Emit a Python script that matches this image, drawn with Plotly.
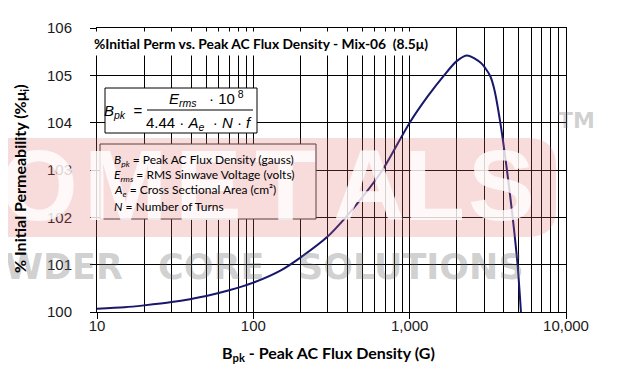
import plotly.graph_objects as go

# ---- data ----
flux_density = [10, 15, 20, 30, 50, 70, 100, 150, 200, 300, 390, 500, 670, 1000,
                1300, 1660, 2000, 2330, 2860, 3050, 3280, 3480, 3800, 4190, 4560, 4900, 5150]
initial_perm = [100.07, 100.10, 100.14, 100.21, 100.34, 100.46, 100.62, 100.88, 101.15,
                101.60, 102.00, 102.43, 103.00, 104.00, 104.55, 105.00, 105.30, 105.42,
                105.26, 105.15, 104.98, 104.70, 104.00, 103.00, 102.00, 101.00, 100.00]
x_tick_vals = [10, 100, 1000, 10000]
x_tick_text = ["10", "100", "1,000", "10,000"]
y_range = [100, 106]

title_text = "<b>%Initial Perm vs. Peak AC Flux Density - Mix-06 \u00a0(8.5\u03bc)</b>"
x_title = "<b>B<sub>pk</sub> - Peak AC Flux Density (G)</b>"
y_title = "<b>% Initial Permeability (%\u03bc<sub>i</sub>)</b>"
legend_lines = [
    "<i>B</i><sub><i>pk</i></sub> = Peak AC Flux Density (gauss)",
    "<i>E</i><sub><i>rms</i></sub> = RMS Sinwave Voltage (volts)",
    "<i>A</i><sub><i>e</i></sub> = Cross Sectional Area (cm\u00b2)",
    "<i>N</i> = Number of Turns",
]

# ---- geometry ----
W, H = 626, 373
L, R, T, B = 89, 558, 20, 304
PW, PH = R - L, B - T


def px(x):
    return (x - L) / PW


def py(y):
    return (B - y) / PH


CAL = "Lato, Carlito, Calibri, sans-serif"
ARI = "Liberation Sans, Arial, sans-serif"
NB = "\u00a0"

fig = go.Figure()
fig.add_trace(go.Scatter(
    x=flux_density, y=initial_perm, mode="lines",
    line=dict(color="#17176b", width=2, shape="spline", smoothing=0.8),
    hoverinfo="skip", showlegend=False,
))

shapes = []
# equation box
shapes.append(dict(type="rect", xref="paper", yref="paper", layer="above",
                   x0=px(97), x1=px(249), y0=py(125), y1=py(80),
                   fillcolor="white", line=dict(color="black", width=1)))
shapes.append(dict(type="line", xref="paper", yref="paper", layer="above",
                   x0=px(139), x1=px(245), y0=py(102), y1=py(102),
                   line=dict(color="black", width=1)))
# legend box
shapes.append(dict(type="rect", xref="paper", yref="paper", layer="above",
                   x0=px(92), x1=px(308), y0=py(211), y1=py(136),
                   fillcolor="white", line=dict(color="#333333", width=1)))
# watermark band
bx0, bx1, by0, by1, rr = -20, 548, 130, 229, 28
path = (f"M {px(bx0)},{py(by0)} L {px(bx1 - rr)},{py(by0)} "
        f"Q {px(bx1)},{py(by0)} {px(bx1)},{py(by0 + rr)} "
        f"L {px(bx1)},{py(by1 - rr)} Q {px(bx1)},{py(by1)} {px(bx1 - rr)},{py(by1)} "
        f"L {px(bx0)},{py(by1)} Z")
shapes.append(dict(type="path", xref="paper", yref="paper", layer="above",
                   path=path, fillcolor="rgba(225,105,105,0.24)", line=dict(width=0)))

ann = []
# watermark letters
wm_letters = ["O", "M", "E", "T", "A", "L", "S"]
wm_centers = [31, 117, 200, 277, 361, 426, 493]
for ch, cx in zip(wm_letters, wm_centers):
    ann.append(dict(text=f"<b>{ch}</b>", x=px(cx), y=py(177), xref="paper", yref="paper",
                    showarrow=False, xanchor="center", yanchor="middle",
                    font=dict(family=ARI, size=100, color="rgba(255,255,255,0.8)")))
grey = "rgba(110,110,110,0.33)"
for word, cx in [("POWDER", 28), ("CORE", 203), ("SOLUTIONS", 403)]:
    ann.append(dict(text="<b>" + word + "</b>", x=px(cx), y=py(259),
                    xref="paper", yref="paper", showarrow=False,
                    xanchor="center", yanchor="middle",
                    font=dict(family="DejaVu Sans", size=35, color=grey)))
ann.append(dict(text="<b>TM</b>", x=px(568), y=py(112), xref="paper", yref="paper",
                showarrow=False, xanchor="center", yanchor="middle",
                font=dict(family="DejaVu Sans", size=22, color=grey)))

# chart title inside plot
ann.append(dict(text=title_text, x=px(82), y=py(35), xref="paper", yref="paper",
                showarrow=False, xanchor="left", yanchor="middle", bgcolor="white",
                borderpad=3, font=dict(family=CAL, size=13.8, color="black")))
# axis titles
ann.append(dict(text=x_title, x=px(320), y=py(345), xref="paper", yref="paper",
                showarrow=False, xanchor="center", yanchor="middle",
                font=dict(family=CAL, size=16, color="black")))
ann.append(dict(text=y_title, x=px(12), y=py(171), xref="paper", yref="paper",
                showarrow=False, xanchor="center", yanchor="middle", textangle=-90,
                font=dict(family=CAL, size=16, color="black")))
# equation
eqf = dict(family=ARI, size=15, color="black")
ann.append(dict(text=f"<i>B</i><sub><i>pk</i></sub>{NB}{NB}=", x=px(94), y=py(103),
                xref="paper", yref="paper", showarrow=False, xanchor="left",
                yanchor="middle", font=eqf))
ann.append(dict(text=f"<i>E</i><sub><i>rms</i></sub>{NB}{NB}{NB}\u00b7{NB}10<sup>{NB}8</sup>",
                x=px(198), y=py(90), xref="paper", yref="paper", showarrow=False,
                xanchor="center", yanchor="middle", font=eqf))
ann.append(dict(text=f"4.44{NB}\u00b7{NB}<i>A</i><sub><i>e</i></sub>{NB}{NB}\u00b7{NB}<i>N</i>{NB}\u00b7{NB}<i>f</i>",
                x=px(191), y=py(115), xref="paper", yref="paper", showarrow=False,
                xanchor="center", yanchor="middle", font=eqf))
# legend lines
for i, line in enumerate(legend_lines):
    ann.append(dict(text=line, x=px(104), y=py(152 + 15.4 * i), xref="paper", yref="paper",
                    showarrow=False, xanchor="left", yanchor="middle",
                    font=dict(family=CAL, size=12, color="black")))

axis_common = dict(showline=True, linecolor="black", linewidth=1, mirror=True,
                   showgrid=True, gridcolor="black", gridwidth=1, zeroline=False,
                   ticks="outside", ticklen=6, tickcolor="black",
                   tickfont=dict(family=ARI, size=15, color="#1a1a1a"))

fig.update_layout(
    width=W, height=H,
    margin=dict(l=L, r=W - R, t=T, b=H - B, pad=0),
    paper_bgcolor="white", plot_bgcolor="white",
    xaxis=dict(type="log", range=[1, 4], tickvals=x_tick_vals, ticktext=x_tick_text,
               minor=dict(dtick="D1", showgrid=True, gridcolor="black", gridwidth=1),
               ticklabelstandoff=-6, **axis_common),
    yaxis=dict(range=y_range, dtick=1, ticklabelstandoff=15, **axis_common),
    shapes=shapes, annotations=ann, showlegend=False,
)

fig.write_html("out.html")
